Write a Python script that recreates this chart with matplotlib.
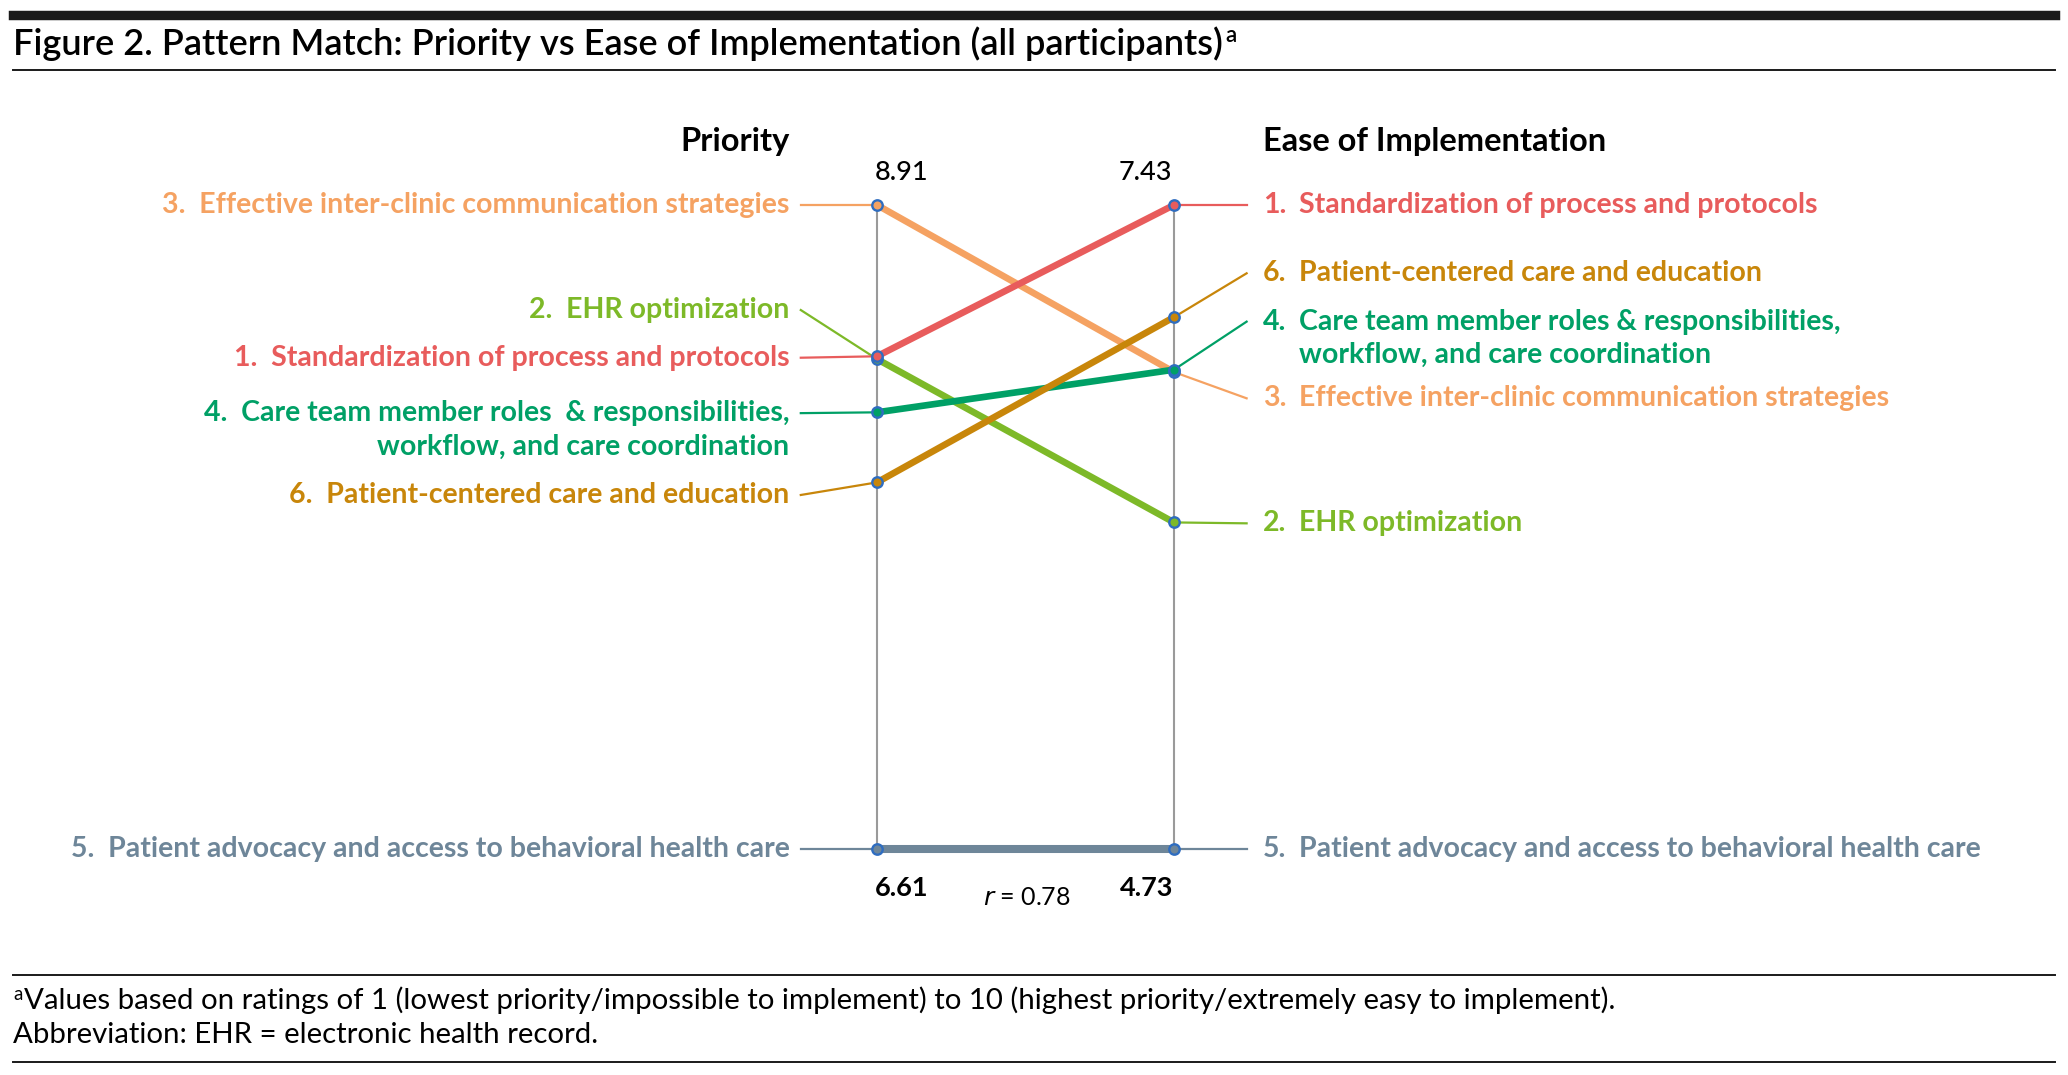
import matplotlib
matplotlib.use("Agg")
from matplotlib import pyplot as plt
from matplotlib.lines import Line2D

plt.rcParams['font.family'] = ['Lato', 'DejaVu Sans']

# data
numbers = ["1.", "2.", "3.", "4.", "5.", "6."]
names = ["Standardization of process and protocols",
         "EHR optimization",
         "Effective inter-clinic communication strategies",
         ["Care team member roles  & responsibilities,", "workflow, and care coordination"],
         "Patient advocacy and access to behavioral health care",
         "Patient-centered care and education"]
priority = [8.37, 8.36, 8.91, 8.17, 6.61, 7.92]
ease = [7.43, 6.10, 6.73, 6.74, 4.73, 6.96]
r_value = 0.78

colors = ["#E85C5C", "#7DB928", "#F5A262", "#00A066", "#6E8699", "#C8860A"]
draw_order = [2, 1, 3, 0, 5, 4]

# label positions (fraction of the scale height), layout only
left_label_y = [0.763, 0.837, 1.0, 0.677, 0.0, 0.550]
right_label_y = [1.0, 0.506, 0.700, 0.819, 0.0, 0.894]
line_gap = 0.052

W, H = 2068, 1075
fig = plt.figure(figsize=(W / 100, H / 100), dpi=100)
ax = fig.add_axes([877 / W, (H - 849.4) / H, 297 / W, 644.4 / H])
ax.set_xlim(0, 1)
ax.set_ylim(0, 1)
ax.axis("off")

p_lo, p_hi = min(priority), max(priority)
e_lo, e_hi = min(ease), max(ease)
def norm_p(v):
    return (v - p_lo) / (p_hi - p_lo)
def norm_e(v):
    return (v - e_lo) / (e_hi - e_lo)

# the two vertical scales
ax.plot([0, 0], [0, 1], color="#9A9A9A", lw=1.5, zorder=1, clip_on=False)
ax.plot([1, 1], [0, 1], color="#9A9A9A", lw=1.5, zorder=1, clip_on=False)

lab_fs = 20.5
xl_conn, xl_text = -0.2566, -0.295
xr_conn, xr_num, xr_text = 1.2445, 1.2997, 1.422

for k, i in enumerate(draw_order):
    c = colors[i]
    yp = norm_p(priority[i])
    ye = norm_e(ease[i])
    lw = 5.8 if i == 4 else 4.8
    ax.plot([0, 1], [yp, ye], color=c, lw=lw, solid_capstyle="butt",
            zorder=3 + k, clip_on=False)
    # connectors to labels
    ax.plot([xl_conn, 0], [left_label_y[i], yp], color=c, lw=1.6, zorder=2, clip_on=False)
    ax.plot([1, xr_conn], [ye, right_label_y[i]], color=c, lw=1.6, zorder=2, clip_on=False)
    ax.plot([0, 1], [yp, ye], ls="none", marker="o", ms=7.5, mfc=c, mec="#2F6DC0",
            mew=1.7, zorder=20, clip_on=False)

    name = names[i]
    lines = name if isinstance(name, list) else [name]
    # left side labels
    ax.text(xl_text, left_label_y[i], numbers[i] + "  " + lines[0], ha="right", va="center",
            color=c, fontsize=lab_fs, fontweight="bold")
    for j, extra in enumerate(lines[1:]):
        ax.text(xl_text, left_label_y[i] - line_gap * (j + 1), extra, ha="right",
                va="center", color=c, fontsize=lab_fs, fontweight="bold")
    # right side labels
    ax.text(xr_num, right_label_y[i], numbers[i], ha="left", va="center",
            color=c, fontsize=lab_fs, fontweight="bold")
    for j, ln in enumerate(lines):
        ax.text(xr_text, right_label_y[i] - line_gap * j, ln.replace("  &", " &"), ha="left",
                va="center", color=c, fontsize=lab_fs, fontweight="bold")

# headers and scale values
ax.text(xl_text, 1.099, "Priority", ha="right", va="center", fontsize=23.5, fontweight="bold")
ax.text(xr_num, 1.099, "Ease of Implementation", ha="left", va="center", fontsize=23.5,
        fontweight="bold")
ax.text(0.084, 1.0497, "%.2f" % p_hi, ha="center", va="center", fontsize=19.5,
        fontweight="medium")
ax.text(0.902, 1.0497, "%.2f" % e_hi, ha="center", va="center", fontsize=19.5,
        fontweight="medium")
ax.text(0.084, -0.060, "%.2f" % p_lo, ha="center", va="center", fontsize=19.5, fontweight="bold")
ax.text(0.909, -0.060, "%.2f" % e_lo, ha="center", va="center", fontsize=19.5, fontweight="bold")
ax.text(0.505, -0.074, "$r$ = %.2f" % r_value, ha="center", va="center", fontsize=18)

# figure frame: rules, title, footnotes
def hrule(ypx, lw):
    fig.add_artist(Line2D([13 / W, 2055 / W], [1 - ypx / H, 1 - ypx / H],
                          color="#1A1A1A", lw=lw))

hrule(14.5, 6.8)
hrule(70, 1.4)
hrule(975, 1.4)
hrule(1062, 1.4)

title = fig.text(13 / W, 1 - 44 / H,
                 "Figure 2. Pattern Match: Priority vs Ease of Implementation (all participants)",
                 ha="left", va="center", fontsize=26, fontweight="semibold")
fig.canvas.draw()
bb = title.get_window_extent()
fig.text(bb.x1 / W + 0.001, 1 - 36 / H, "a", ha="left", va="center", fontsize=16,
         fontweight="semibold")

fig.text(13 / W, 1 - 994 / H, "a", ha="left", va="center", fontsize=13.5)
fig.text(24 / W, 1 - 1000 / H,
         "Values based on ratings of 1 (lowest priority/impossible to implement) to 10 "
         "(highest priority/extremely easy to implement).",
         ha="left", va="center", fontsize=21.2)
fig.text(13 / W, 1 - 1035 / H, "Abbreviation: EHR = electronic health record.",
         ha="left", va="center", fontsize=21.2)

fig.savefig("out.png", dpi=100)
